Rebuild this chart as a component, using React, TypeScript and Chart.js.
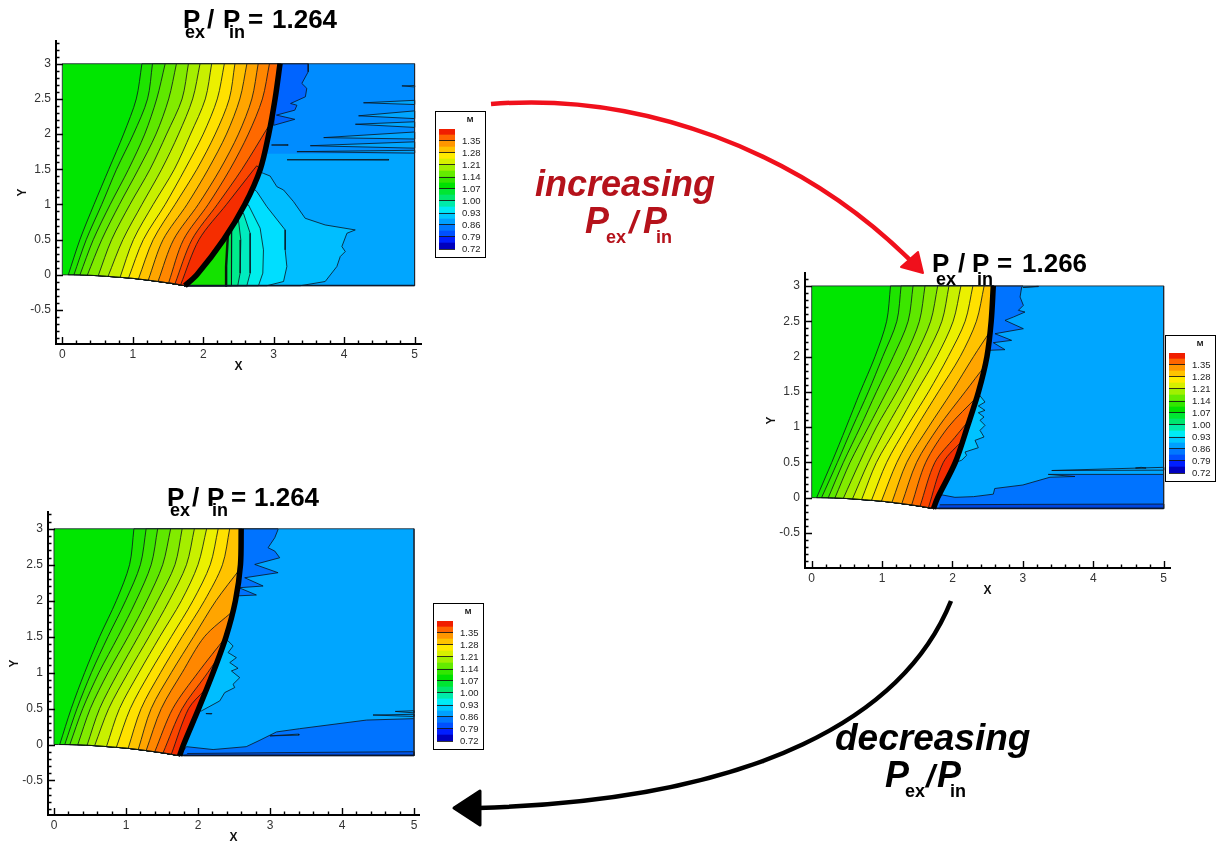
import React, { useEffect, useRef } from "react";
import { Chart, registerables } from "chart.js";

Chart.register(...registerables);
Chart.defaults.font.family = "'Liberation Sans', Arial, sans-serif";

type Pt = [number, number];

/* ---------- shared axis + legend values ---------- */
const xTickValues = [0, 1, 2, 3, 4, 5];
const yTickValues = [-0.5, 0, 0.5, 1, 1.5, 2, 2.5, 3];
const legendLabels = [0.72, 0.79, 0.86, 0.93, 1.0, 1.07, 1.14, 1.21, 1.28, 1.35];
const legendEdges = [0.72, 0.755, 0.79, 0.825, 0.86, 0.895, 0.93, 0.965, 1.0, 1.035, 1.07, 1.105, 1.14, 1.175, 1.21, 1.245, 1.28, 1.315, 1.35, 1.385, 1.42];
const legendColors = [
  "rgb(0,0,190)", "rgb(0,30,255)", "rgb(0,80,255)", "rgb(0,120,255)", "rgb(0,160,255)",
  "rgb(0,200,255)", "rgb(0,235,245)", "rgb(0,235,170)", "rgb(0,230,110)", "rgb(0,230,50)",
  "rgb(0,225,0)", "rgb(50,230,0)", "rgb(100,235,0)", "rgb(160,240,0)", "rgb(215,240,0)",
  "rgb(255,235,0)", "rgb(255,195,0)", "rgb(255,150,0)", "rgb(255,100,0)", "rgb(240,30,0)",
];
const flowColors = [
  "rgb(0,230,0)", "rgb(30,228,0)", "rgb(60,230,0)", "rgb(95,232,0)", "rgb(130,235,0)",
  "rgb(165,238,0)", "rgb(200,240,0)", "rgb(235,240,0)", "rgb(255,225,0)", "rgb(255,195,0)",
  "rgb(255,165,0)", "rgb(255,135,0)", "rgb(255,105,0)", "rgb(250,70,0)", "rgb(245,45,0)", "rgb(238,25,0)",
];
const levelY = [3, 2.5, 2, 1.5, 1, 0.5];
const nozzleWall: Pt[] = [[0, 0], [0.25, -0.002], [0.5, -0.012], [0.75, -0.03], [1, -0.05], [1.25, -0.08], [1.5, -0.115], [1.74, -0.155]];

const BASE_BLUE = "rgb(0,166,255)";
const UPPER_BLUE = "rgb(0,140,255)";
const DARK_BLUE = "rgb(0,115,255)";
const LINE = "rgba(10,20,30,0.8)";

/* ---------- panel 1: Pex/Pin 1.264 (increasing) ---------- */
const p1Shock: Pt[] = [[1.74, -0.155], [1.91, 0], [2.29, 0.5], [2.59, 1], [2.81, 1.5], [2.93, 2], [3.02, 2.5], [3.09, 3]];
const p1Rows = [
  [1.13, 1.05, 0.87, 0.66, 0.45, 0.25, 0.085, 0],
  [1.28, 1.21, 1.01, 0.77, 0.56, 0.34, 0.165, 0],
  [1.46, 1.34, 1.17, 0.94, 0.68, 0.44, 0.25, -0.002],
  [1.62, 1.51, 1.33, 1.08, 0.81, 0.56, 0.355, -0.005],
  [1.79, 1.7, 1.48, 1.245, 0.96, 0.7, 0.51, -0.012],
  [1.955, 1.85, 1.65, 1.41, 1.13, 0.86, 0.65, -0.02],
  [2.12, 2.03, 1.82, 1.59, 1.29, 1.01, 0.82, -0.035],
  [2.3, 2.2, 2.0, 1.74, 1.46, 1.15, 0.94, -0.045],
  [2.45, 2.37, 2.17, 1.91, 1.6, 1.29, 1.08, -0.06],
  [2.62, 2.52, 2.33, 2.07, 1.77, 1.43, 1.22, -0.075],
  [2.78, 2.69, 2.5, 2.24, 1.93, 1.58, 1.36, -0.09],
  [2.94, 2.84, 2.64, 2.38, 2.07, 1.72, 1.51, -0.11],
];
const p1Partial: Pt[][] = [
  [[2.92, 2.1], [2.55, 1.5], [2.2, 1], [1.84, 0.5], [1.6, -0.125]],
  [[2.76, 1.55], [2.72, 1.5], [2.33, 1], [1.94, 0.5], [1.68, -0.14]],
];
const p1Upper: Pt[] = [[2.9, 1.72], [5, 1.72], [5, 3], [3.09, 3]];
const p1TopDark: Pt[] = [[3.49, 3], [3.49, 2.885], [3.4, 2.72], [3.47, 2.65], [3.45, 2.53], [3.24, 2.435], [3.33, 2.41], [3.3, 2.34], [3.04, 2.27], [3.3, 2.21], [3.0, 2.125]];
const p1Fans: { color: string; pts: Pt[] }[] = [
  { color: "rgb(0,190,255)", pts: [[2.79, 1.47], [2.855, 1.442], [2.95, 1.404], [3.045, 1.253], [3.14, 1.206], [3.282, 1.04], [3.447, 0.804], [3.731, 0.709], [4.158, 0.638], [4.04, 0.591], [3.968, 0.402], [4.016, 0.331], [3.945, 0.26], [3.897, 0.118], [3.731, -0.095], [3.376, -0.155]] },
  { color: "rgb(0,222,255)", pts: [[2.72, 1.22], [2.761, 1.182], [2.903, 0.969], [3.163, 0.638], [3.163, 0.355], [3.187, 0.118], [3.14, -0.095], [2.903, -0.155]] },
  { color: "rgb(0,238,235)", pts: [[2.6, 1.0], [2.642, 0.993], [2.808, 0.662], [2.855, 0.355], [2.846, 0.024], [2.784, -0.155]] },
  { color: "rgb(0,236,190)", pts: [[2.52, 0.875], [2.571, 0.875], [2.666, 0.591], [2.666, 0.024], [2.619, -0.155]] },
  { color: "rgb(0,235,140)", pts: [[2.47, 0.78], [2.5, 0.78], [2.534, 0.496], [2.524, 0.024], [2.49, -0.155]] },
  { color: "rgb(0,232,80)", pts: [[2.39, 0.638], [2.406, 0.638], [2.406, 0.26], [2.396, -0.155]] },
  { color: "rgb(20,226,0)", pts: [[2.34, 0.56], [2.349, 0.544], [2.325, 0.118], [2.325, -0.155]] },
];
const p1Streaks: Pt[][] = [
  [[4.82, 2.685], [5, 2.69], [5, 2.67]],
  [[4.275, 2.445], [5, 2.48], [5, 2.42]],
  [[4.205, 2.26], [5, 2.33], [5, 2.22]],
  [[4.16, 2.14], [5, 2.175], [5, 2.095]],
  [[3.71, 1.95], [5, 2.03], [5, 1.93]],
  [[3.52, 1.835], [5, 1.89], [5, 1.8]],
  [[3.33, 1.75], [5, 1.77], [5, 1.73]],
  [[2.97, 1.845], [3.2, 1.85], [3.2, 1.84]],
  [[3.19, 1.635], [4.63, 1.64], [4.63, 1.63]],
];

/* ---------- panel 2: Pex/Pin 1.266 ---------- */
const p2Shock: Pt[] = [[1.73, -0.155], [1.79, 0], [2.04, 0.5], [2.21, 1], [2.37, 1.5], [2.49, 2], [2.55, 2.5], [2.58, 3]];
const p2Rows = [
  [1.12, 1.065, 0.9, 0.69, 0.49, 0.285, 0.07, 0],
  [1.27, 1.21, 1.01, 0.805, 0.58, 0.365, 0.14, 0],
  [1.44, 1.37, 1.16, 0.92, 0.69, 0.45, 0.235, -0.002],
  [1.61, 1.53, 1.325, 1.065, 0.805, 0.545, 0.33, -0.004],
  [1.79, 1.69, 1.47, 1.21, 0.92, 0.68, 0.45, -0.009],
  [1.95, 1.85, 1.62, 1.35, 1.065, 0.805, 0.58, -0.016],
  [2.12, 2.01, 1.78, 1.49, 1.21, 0.92, 0.71, -0.025],
  [2.29, 2.18, 1.94, 1.66, 1.35, 1.065, 0.85, -0.037],
  [2.45, 2.34, 2.11, 1.8, 1.49, 1.21, 0.99, -0.05],
];
const p2Partial: Pt[][] = [
  [[2.53, 2.35], [2.3, 2], [1.99, 1.5], [1.66, 1], [1.35, 0.5], [1.14, -0.067]],
  [[2.47, 1.88], [2.18, 1.5], [1.8, 1], [1.49, 0.5], [1.28, -0.085]],
  [[2.35, 1.43], [1.94, 1], [1.62, 0.5], [1.42, -0.103]],
  [[2.24, 1.1], [2.03, 0.85], [1.75, 0.5], [1.54, -0.118]],
  [[2.15, 0.82], [1.87, 0.5], [1.66, -0.135]],
];
const p2TopDark: Pt[] = [[3.0, 3], [2.983, 2.984], [2.96, 2.843], [3.007, 2.725], [2.936, 2.654], [3.03, 2.63], [2.865, 2.559], [2.746, 2.512], [3.007, 2.394], [2.604, 2.323], [2.84, 2.229], [2.58, 2.196], [2.746, 2.097], [2.5, 2.087]];
const p2Patch: Pt[] = [[2.37, 1.49], [2.367, 1.473], [2.462, 1.355], [2.367, 1.299], [2.462, 1.237], [2.367, 1.204], [2.448, 1.143], [2.391, 1.096], [2.462, 1.025], [2.391, 0.954], [2.448, 0.86], [2.32, 0.812], [2.367, 0.708], [2.178, 0.647], [2.2, 0.6], [2.13, 0.53], [2.04, 0.5]];
const p2Lower: Pt[] = [[5, 0.33], [3.36, 0.33], [3.74, 0.3], [3.385, 0.29], [3.0, 0.18], [2.6, 0.13], [2.58, 0.05], [2.3, 0.015], [2.035, 0.005], [1.85, 0.04], [1.76, 0], [1.73, -0.155], [5, -0.155]];
const p2Strip: Pt[] = [[1.82, -0.1], [3.0, -0.095], [5, -0.09], [5, -0.155], [1.8, -0.155]];
const p2Streaks: Pt[][] = [
  [[3.41, 0.385], [5, 0.43], [5, 0.39]],
  [[3.22, 2.99], [3.0, 2.98], [3.22, 2.995]],
  [[4.6, 0.42], [4.75, 0.42], [4.68, 0.43]],
];

/* ---------- panel 3: Pex/Pin 1.264 (decreasing) ---------- */
const p3Shock: Pt[] = [[1.745, -0.155], [1.8, 0], [2.01, 0.5], [2.21, 1], [2.39, 1.5], [2.52, 2], [2.59, 2.5], [2.6, 3]];
const p3Rows = [
  [1.11, 1.05, 0.866, 0.634, 0.426, 0.24, 0.08, 0],
  [1.28, 1.2, 0.995, 0.75, 0.52, 0.32, 0.15, 0],
  [1.44, 1.35, 1.14, 0.89, 0.625, 0.4, 0.22, -0.002],
  [1.62, 1.51, 1.29, 1.03, 0.75, 0.505, 0.33, -0.004],
  [1.78, 1.68, 1.44, 1.17, 0.89, 0.634, 0.46, -0.01],
  [1.95, 1.84, 1.6, 1.32, 1.03, 0.76, 0.565, -0.016],
  [2.12, 2.0, 1.77, 1.47, 1.18, 0.91, 0.73, -0.027],
  [2.28, 2.17, 1.93, 1.63, 1.33, 1.06, 0.866, -0.04],
  [2.44, 2.34, 2.09, 1.78, 1.48, 1.21, 1.03, -0.053],
];
const p3Partial: Pt[][] = [
  [[2.59, 2.45], [2.25, 2], [1.94, 1.5], [1.63, 1], [1.35, 0.5], [1.17, -0.07]],
  [[2.48, 1.85], [2.09, 1.5], [1.78, 1], [1.49, 0.5], [1.28, -0.085]],
  [[2.39, 1.5], [2.0, 1], [1.65, 0.5], [1.4, -0.1]],
  [[2.26, 1.18], [2.1, 0.95], [1.78, 0.5], [1.515, -0.115]],
  [[2.09, 0.755], [1.87, 0.5], [1.63, -0.135]],
  [[2.0, 0.5], [1.72, -0.15]],
];
const p3TopDark: Pt[] = [[3.11, 3], [3.112, 2.99], [3.066, 2.875], [2.973, 2.736], [3.066, 2.69], [3.135, 2.597], [2.788, 2.504], [3.112, 2.389], [2.649, 2.319], [2.904, 2.204], [2.57, 2.18], [2.811, 2.079], [2.5, 2.065]];
const p3Patch: Pt[] = [[2.38, 1.46], [2.418, 1.44], [2.487, 1.37], [2.418, 1.278], [2.533, 1.208], [2.441, 1.139], [2.556, 1.06], [2.464, 1.023], [2.58, 0.93], [2.487, 0.838], [2.51, 0.792], [2.371, 0.722], [2.302, 0.606], [2.047, 0.467], [2.0, 0.467]];
const p3Lower: Pt[] = [[5, 0.36], [4.34, 0.34], [3.41, 0.22], [3.09, 0.175], [2.86, 0.06], [2.67, -0.03], [2.21, -0.07], [1.84, -0.03], [1.745, -0.155], [5, -0.155]];
const p3Strip: Pt[] = [[1.85, -0.125], [3.5, -0.11], [5, -0.1], [5, -0.155], [1.8, -0.155]];
const p3Streaks: Pt[][] = [
  [[4.43, 0.41], [5, 0.42], [5, 0.39]],
  [[4.74, 0.46], [5, 0.47], [5, 0.44]],
  [[3.0, 0.12], [3.4, 0.145], [3.4, 0.13]],
  [[2.11, 0.43], [2.19, 0.43], [2.19, 0.425]],
];

/* ---------- assembling datasets from the tables ---------- */
const rowToPts = (row: number[]): Pt[] => [...levelY.map((y, i) => [row[i], y] as Pt), [row[6], row[7]]];
const toXY = (a: Pt[]) => a.map(([x, y]) => ({ x, y }));

function bandPolygon(c: Pt[], shock: Pt[]): Pt[] {
  const start = c[0];
  const last = c[c.length - 1];
  const foot = shock[0];
  const wallPart = nozzleWall.filter((w) => w[0] > last[0] && w[0] < foot[0]);
  const shockPart = shock.filter((s, i) => i > 0 && s[1] <= start[1]);
  const top = shockPart[shockPart.length - 1];
  return [start, ...c, last, ...wallPart, foot, foot, ...shockPart, top, start, start];
}

function closeAlongShock(b: Pt[], shock: Pt[]): Pt[] {
  const lo = b[b.length - 1][1];
  const hi = b[0][1];
  return [...b, ...shock.filter((s) => s[1] >= lo && s[1] <= hi), b[0]];
}

function line(points: Pt[], o: { fill?: string; border?: string; width?: number; tension?: number; cap?: string }) {
  return {
    type: "line",
    data: toXY(points),
    backgroundColor: o.fill ?? "transparent",
    borderColor: o.border ?? "transparent",
    borderWidth: o.width ?? 0,
    borderCapStyle: o.cap ?? "butt",
    borderJoinStyle: "round",
    fill: o.fill ? "shape" : false,
    tension: o.tension ?? 0,
    pointRadius: 0,
  };
}

interface PanelData {
  shock: Pt[];
  rows: number[][];
  partial: Pt[][];
  streaks: Pt[][];
  back: any[];
  front?: any[];
}

function buildDatasets(p: PanelData) {
  const foot = p.shock[0];
  const list: any[] = [];
  list.push(line([[foot[0], -0.155], [5, -0.155], [5, 3], [p.shock[p.shock.length - 1][0], 3]], { fill: BASE_BLUE }));
  list.push(...p.back);
  p.streaks.forEach((s) => list.push(line([...s, s[0]], { fill: BASE_BLUE, border: LINE, width: 1 })));
  const green: Pt[] = [[0, 0], [0, 3], ...[...p.shock].reverse(), ...[...nozzleWall].reverse().filter((w) => w[0] < foot[0])];
  list.push(line(green, { fill: flowColors[0] }));
  const contours = [...p.rows.map(rowToPts), ...p.partial];
  contours.forEach((c, i) => {
    list.push(line(bandPolygon(c, p.shock), { fill: flowColors[i + 1], border: LINE, width: 1, tension: 0.3 }));
  });
  list.push(...(p.front ?? []));
  list.push(line([[0, 0], [0, 3], [5, 3], [5, -0.155], [foot[0], -0.155]], { border: "rgba(30,40,50,0.85)", width: 1 }));
  list.push(line([[foot[0], -0.15], [5, -0.15]], { border: "rgba(10,20,40,0.9)", width: 1.5 }));
  list.push(line(nozzleWall, { border: "rgba(10,20,10,0.85)", width: 1, tension: 0.3 }));
  list.push(line(p.shock, { border: "#000", width: 5.5, tension: 0.3 }));
  list.forEach((d, i) => (d.order = -i));
  return list;
}

const regionLine = { border: LINE, width: 1 };

const panels = [
  {
    box: { left: 56, right: 421, top: 41, bottom: 344 },
    range: { xMin: -0.0895, xMax: 5.091, yMin: -0.983, yMax: 3.323 },
    data: {
      shock: p1Shock, rows: p1Rows, partial: p1Partial, streaks: p1Streaks,
      back: [
        line(p1Upper, { fill: UPPER_BLUE }),
        line(closeAlongShock(p1TopDark, p1Shock), { fill: "rgb(0,100,255)", ...regionLine }),
        ...p1Fans.map((f) => line(closeAlongShock(f.pts, p1Shock), { fill: f.color, ...regionLine })),
      ],
      front: [line(p1Fans[6].pts, { border: "rgba(10,20,10,0.9)", width: 2.5 })],
    },
    legend: { left: 435, top: 111 },
  },
  {
    box: { left: 805, right: 1170, top: 273, bottom: 568 },
    range: { xMin: -0.095, xMax: 5.09, yMin: -0.996, yMax: 3.183 },
    data: {
      shock: p2Shock, rows: p2Rows, partial: p2Partial, streaks: p2Streaks,
      back: [
        line(closeAlongShock(p2TopDark, p2Shock), { fill: DARK_BLUE, ...regionLine }),
        line(closeAlongShock(p2Patch, p2Shock), { fill: "rgb(0,195,255)", ...regionLine }),
        line(p2Lower, { fill: DARK_BLUE, ...regionLine }),
        line(p2Strip, { fill: "rgb(0,70,225)", ...regionLine }),
      ],
    },
    legend: { left: 1165, top: 335 },
  },
  {
    box: { left: 48, right: 419, top: 512, bottom: 815 },
    range: { xMin: -0.083, xMax: 5.069, yMin: -0.98, yMax: 3.233 },
    data: {
      shock: p3Shock, rows: p3Rows, partial: p3Partial, streaks: p3Streaks,
      back: [
        line(closeAlongShock(p3TopDark, p3Shock), { fill: DARK_BLUE, ...regionLine }),
        line(closeAlongShock(p3Patch, p3Shock), { fill: "rgb(0,190,255)", ...regionLine }),
        line(p3Lower, { fill: DARK_BLUE, ...regionLine }),
        line(p3Strip, { fill: "rgb(0,85,235)", ...regionLine }),
      ],
    },
    legend: { left: 433, top: 603 },
  },
];

const PAD_L = 50, PAD_T = 6, PAD_R = 6, PAD_B = 34;

/* inward major and minor ticks, placed through the scales */
const inwardTicks = {
  id: "inwardTicks",
  afterDraw(chart: any) {
    const { ctx, scales } = chart;
    const sx = scales.x, sy = scales.y;
    ctx.save();
    ctx.strokeStyle = "#000";
    ctx.lineWidth = 1.4;
    ctx.beginPath();
    for (let i = 0; i <= 25; i++) {
      const v = i / 5;
      const px = Math.round(sx.getPixelForValue(v)) + 0.5;
      const len = i % 5 === 0 ? 7 : 3.5;
      ctx.moveTo(px, sx.top);
      ctx.lineTo(px, sx.top - len);
    }
    for (let i = -9; i <= 33; i++) {
      const v = i / 10;
      if (v > sy.max) continue;
      const py = Math.round(sy.getPixelForValue(v)) + 0.5;
      const len = i % 5 === 0 ? 7 : 3.5;
      ctx.moveTo(sy.right, py);
      ctx.lineTo(sy.right + len, py);
    }
    ctx.stroke();
    ctx.restore();
  },
};

const legendFrame = {
  id: "legendFrame",
  afterDraw(chart: any) {
    const { ctx, width, height } = chart;
    ctx.save();
    ctx.strokeStyle = "#000";
    ctx.lineWidth = 1;
    ctx.strokeRect(0.5, 0.5, width - 1, height - 1);
    ctx.fillStyle = "#111";
    ctx.font = "bold 8px 'Liberation Sans'";
    ctx.textAlign = "center";
    ctx.fillText("M", 35, 11);
    ctx.restore();
  },
};

function makePanel(canvas: HTMLCanvasElement, p: (typeof panels)[number]) {
  return new Chart(canvas, {
    type: "line",
    data: { datasets: buildDatasets(p.data as PanelData) },
    plugins: [inwardTicks],
    options: {
      animation: false,
      responsive: false,
      events: [],
      layout: { autoPadding: false, padding: { top: PAD_T, right: PAD_R, left: 0, bottom: 0 } },
      plugins: { legend: { display: false }, tooltip: { enabled: false } },
      scales: {
        x: {
          type: "linear",
          min: p.range.xMin,
          max: p.range.xMax,
          afterBuildTicks: (s: any) => { s.ticks = xTickValues.map((value) => ({ value })); },
          afterFit: (s: any) => { s.height = PAD_B; s.paddingLeft = 0; s.paddingRight = 0; },
          grid: { display: false, drawTicks: false },
          border: { display: true, color: "#000", width: 2 },
          ticks: { autoSkip: false, maxRotation: 0, padding: 3, color: "#333", font: { size: 12 }, callback: (v: any) => String(v) },
          title: { display: true, text: "X", color: "#111", font: { size: 12, weight: "bold" }, padding: { top: 0, bottom: 4 } },
        },
        y: {
          type: "linear",
          min: p.range.yMin,
          max: p.range.yMax,
          afterBuildTicks: (s: any) => { s.ticks = yTickValues.map((value) => ({ value })); },
          afterFit: (s: any) => { s.width = PAD_L; s.paddingTop = 0; s.paddingBottom = 0; },
          grid: { display: false, drawTicks: false },
          border: { display: true, color: "#000", width: 2 },
          ticks: { autoSkip: false, padding: 5, color: "#333", font: { size: 12 }, callback: (v: any) => String(v) },
          title: { display: true, text: "Y", color: "#111", font: { size: 12, weight: "bold" }, padding: { top: 9, bottom: 0 } },
        },
      },
    },
  } as any);
}

function makeLegend(canvas: HTMLCanvasElement) {
  return new Chart(canvas, {
    type: "bar",
    data: {
      labels: ["M"],
      datasets: legendColors.map((color, i) => ({
        data: [[legendEdges[i], legendEdges[i + 1]]],
        backgroundColor: color,
        borderWidth: 0,
        grouped: false,
        barPercentage: 1,
        categoryPercentage: 1,
      })),
    },
    plugins: [legendFrame],
    options: {
      animation: false,
      responsive: false,
      events: [],
      layout: { autoPadding: false, padding: { left: 4, top: 18, bottom: 9, right: 0 } },
      plugins: { legend: { display: false }, tooltip: { enabled: false } },
      scales: {
        x: { display: false },
        y: {
          position: "right",
          min: 0.72,
          max: 1.42,
          afterBuildTicks: (s: any) => { s.ticks = legendLabels.map((value) => ({ value })); },
          afterFit: (s: any) => { s.width = 31; s.paddingTop = 0; s.paddingBottom = 0; },
          grid: { display: true, drawTicks: false, z: 1, color: "rgba(20,20,20,0.85)", lineWidth: 1 },
          border: { display: false },
          ticks: { autoSkip: false, padding: 7, color: "#222", font: { size: 9.5 }, callback: (v: any) => Number(v).toFixed(2) },
        },
      },
    },
  } as any);
}

/* ---------- text parts of titles and captions ---------- */
const titleParts = [
  { big: [["P", 183, 28], ["/", 207, 28], ["P", 223, 28], ["=", 248, 28], ["1.264", 272, 28]], small: [["ex", 185, 38], ["in", 229, 38]] },
  { big: [["P", 932, 272], ["/", 958, 272], ["P", 972, 272], ["=", 997, 272], ["1.266", 1022, 272]], small: [["ex", 936, 285], ["in", 977, 285]] },
  { big: [["P", 167, 506], ["/", 192, 506], ["P", 207, 506], ["=", 231, 506], ["1.264", 254, 506]], small: [["ex", 170, 516], ["in", 212, 516]] },
];

function Overlay() {
  const fam = "'Liberation Sans', Arial, sans-serif";
  return (
    <svg width={1217} height={843} style={{ position: "absolute", left: 0, top: 0, pointerEvents: "none" }}>
      {titleParts.map((t, i) => (
        <g key={i} fontFamily={fam} fontWeight="bold" fill="#000">
          {t.big.map(([s, x, y], j) => (
            <text key={j} x={x as number} y={y as number} fontSize={26}>{s}</text>
          ))}
          {t.small.map(([s, x, y], j) => (
            <text key={j} x={x as number} y={y as number} fontSize={18}>{s}</text>
          ))}
        </g>
      ))}
      <path d="M491 104 C640 92 800 150 912 262" fill="none" stroke="#f0101c" strokeWidth={4.5} />
      <polygon points="923,273 901,267 918,252" fill="#f0101c" stroke="#f0101c" strokeWidth={2} strokeLinejoin="round" />
      <path d="M951 601 C905 715 760 800 478 808" fill="none" stroke="#000" strokeWidth={4.5} />
      <polygon points="454,808 480,791 480,825" fill="#000" stroke="#000" strokeWidth={3} strokeLinejoin="round" />
      <g fontFamily={fam} fontWeight="bold" fontStyle="italic" fill="#b5121b">
        <text x={535} y={196} fontSize={36}>increasing</text>
        <text x={585} y={233} fontSize={36}>P</text>
        <text x={606} y={243} fontSize={18} fontStyle="normal">ex</text>
        <text x={629} y={233} fontSize={32}>/</text>
        <text x={643} y={233} fontSize={36}>P</text>
        <text x={656} y={243} fontSize={18} fontStyle="normal">in</text>
      </g>
      <g fontFamily={fam} fontWeight="bold" fontStyle="italic" fill="#000">
        <text x={835} y={750} fontSize={37}>decreasing</text>
        <text x={885} y={787} fontSize={36}>P</text>
        <text x={905} y={797} fontSize={18} fontStyle="normal">ex</text>
        <text x={926} y={787} fontSize={32}>/</text>
        <text x={937} y={787} fontSize={36}>P</text>
        <text x={950} y={797} fontSize={18} fontStyle="normal">in</text>
      </g>
    </svg>
  );
}

export default function App() {
  const panelRefs = useRef<(HTMLCanvasElement | null)[]>([]);
  const legendRefs = useRef<(HTMLCanvasElement | null)[]>([]);

  useEffect(() => {
    const charts: Chart[] = [];
    panels.forEach((p, i) => {
      charts.push(makePanel(panelRefs.current[i]!, p));
      charts.push(makeLegend(legendRefs.current[i]!));
    });
    return () => charts.forEach((c) => c.destroy());
  }, []);

  return (
    <div style={{ position: "absolute", left: 0, top: 0, width: 1217, height: 843, background: "#fff", overflow: "hidden" }}>
      {panels.map((p, i) => (
        <React.Fragment key={i}>
          <canvas
            ref={(el) => { panelRefs.current[i] = el; }}
            width={p.box.right - p.box.left + PAD_L + PAD_R}
            height={p.box.bottom - p.box.top + PAD_T + PAD_B}
            style={{ position: "absolute", left: p.box.left - PAD_L, top: p.box.top - PAD_T }}
          />
          <canvas
            ref={(el) => { legendRefs.current[i] = el; }}
            width={51}
            height={147}
            style={{ position: "absolute", left: p.legend.left, top: p.legend.top }}
          />
        </React.Fragment>
      ))}
      <Overlay />
    </div>
  );
}
